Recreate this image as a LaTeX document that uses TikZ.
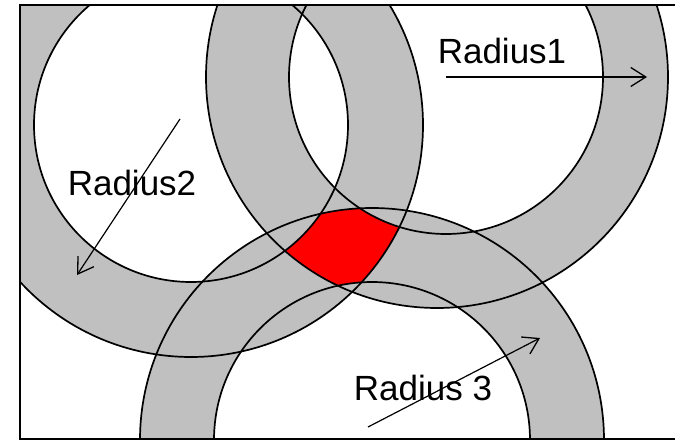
\documentclass[tikz,border=0pt]{standalone}
\usepackage{fontspec}
\setmainfont{Liberation Sans}
\usepackage{xcolor}
\usetikzlibrary{arrows.meta}
\definecolor{ringgray}{RGB}{192,192,192}

\begin{document}
\begin{tikzpicture}[x=1pt, y=-1pt,
  ring/.style={fill=ringgray, even odd rule},
  rim/.style={draw=black, line width=1.7pt},
  lbl/.style={font=\fontsize{35}{40}\selectfont, inner sep=0pt},
  radarrow/.style={-{Straight Barb[length=15pt, width=19pt, line width=1.3pt]}, line width=1.2pt}]
\useasboundingbox (0,0) rectangle (675,441);
\coordinate (cA) at (191,125);
\coordinate (cB) at (437,77);
\coordinate (cBi) at (446,77);
\coordinate (cC) at (372,440);
\begin{scope}
\clip (20,5) rectangle (676,439);
\fill[ring] (cA) circle[radius=232pt] (cA) circle[radius=157pt];
\fill[ring] (cB) circle[radius=231pt] (cBi) circle[radius=157pt];
\fill[ring] (cC) circle[radius=232pt] (cC) circle[radius=158pt];
\begin{scope}[even odd rule]
\clip (cA) circle[radius=232pt] (cA) circle[radius=157pt];
\clip (cB) circle[radius=231pt] (cBi) circle[radius=157pt];
\clip (cC) circle[radius=232pt] (cC) circle[radius=158pt];
\fill[red] (0,0) rectangle (675,441);
\end{scope}
\draw[rim] (cA) circle[radius=232pt] (cA) circle[radius=157pt];
\draw[rim] (cB) circle[radius=231pt] (cBi) circle[radius=157pt];
\draw[rim] (cC) circle[radius=232pt] (cC) circle[radius=158pt];
\end{scope}
\draw[line width=2.5pt] (676,5) -- (20,5) -- (20,439) -- (676,439);

\coordinate (fromA) at (180,119);
\coordinate (tipA) at (77,275);
\coordinate (tipB) at (647,77);
\coordinate (fromC) at (368,427);
\coordinate (tipC) at (540,338);
\draw[radarrow] (cBi) -- (tipB);
\draw[radarrow] (fromA) -- (tipA);
\draw[radarrow] (fromC) -- (tipC);

\node[lbl] (lblB) at (502,51) {Radius1};
\node[lbl] (lblA) at (132,183) {Radius2};
\node[lbl] (lblC) at (423,388) {Radius 3};
\end{tikzpicture}
\end{document}
